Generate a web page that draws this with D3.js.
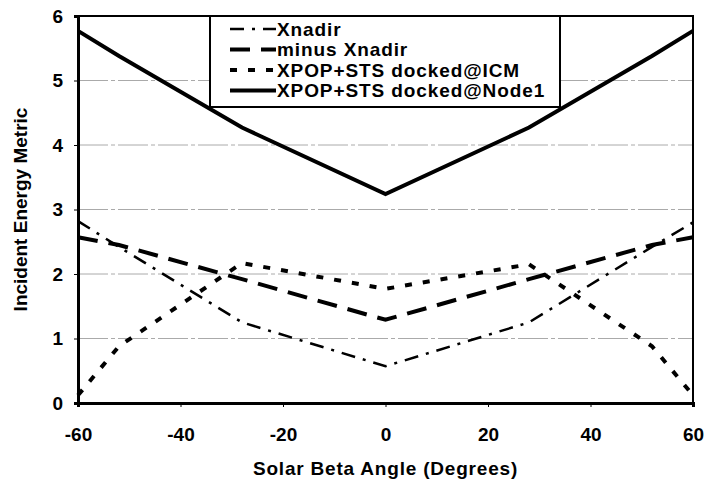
<html>
  <head>
    <meta charset="utf-8">
    <style>
      body { margin: 0; background: #fff; }
      text { font-family: "Liberation Sans", Arial, sans-serif; font-weight: bold; fill: #000; }
    </style>
  </head>
  <body>
    <script src="https://d3js.org/d3.v7.min.js"></script>
    <script>
    // data
    var betas = [-60, -52, -28, 0, 28, 52, 60];
    var xnadir = [2.82, 2.42, 1.25, 0.57, 1.25, 2.42, 2.80];
    var minusXnadir = [2.57, 2.45, 1.92, 1.29, 1.92, 2.45, 2.57];
    var icm = [0.12, 0.88, 2.17, 1.77, 2.15, 0.88, 0.12];
    var node1 = [5.77, 5.38, 4.27, 3.24, 4.27, 5.38, 5.77];
    var seriesNames = ["Xnadir", "minus Xnadir", "XPOP+STS docked@ICM", "XPOP+STS docked@Node1"];
    var xTicks = [-60, -40, -20, 0, 20, 40, 60];
    var yTicks = [0, 1, 2, 3, 4, 5, 6];

    var width = 709, height = 485;
    var margin = {left: 78, right: 16, top: 16, bottom: 82};

    var svg = d3.select("body").append("svg")
        .attr("width", width)
        .attr("height", height);

    var x = d3.scaleLinear().domain([-60, 60]).range([margin.left, width - margin.right]);
    var y = d3.scaleLinear().domain([0, 6]).range([height - margin.bottom, margin.top]);

    //gridlines
    svg.append("g").selectAll("line")
        .data(yTicks.filter(function(d) { return d > 0 && d < 6; }))
        .enter().append("line")
        .attr("x1", x(-60)).attr("x2", x(60))
        .attr("y1", function(d) { return y(d); })
        .attr("y2", function(d) { return y(d); })
        .attr("stroke", "#aaa")
        .attr("stroke-width", 1)
        .attr("stroke-dasharray", "30,3,4,3");

    //frame
    svg.append("rect")
        .attr("x", x(-60)).attr("y", y(6))
        .attr("width", x(60) - x(-60)).attr("height", y(0) - y(6))
        .attr("fill", "none").attr("stroke", "#000").attr("stroke-width", 2);

    //axes
    var fmt = function(d) { return String(d); };
    var xAxis = svg.append("g")
        .attr("transform", "translate(0," + y(0) + ")")
        .call(d3.axisBottom(x).tickValues(xTicks).tickFormat(fmt).tickSize(4).tickPadding(21));
    var yAxis = svg.append("g")
        .attr("transform", "translate(" + x(-60) + ",0)")
        .call(d3.axisLeft(y).tickValues(yTicks).tickFormat(fmt).tickSize(4).tickPadding(11));
    xAxis.select(".domain").attr("stroke-width", 3);
    yAxis.select(".domain").attr("stroke-width", 3);
    svg.selectAll(".tick text").style("font-size", "19px").style("font-weight", "bold")
        .style("font-family", "'Liberation Sans', Arial, sans-serif");

    //series
    var styles = [
      {data: xnadir, width: 2.5, dash: "14,8,3,8"},
      {data: minusXnadir, width: 4, dash: "20,11"},
      {data: icm, width: 4, dash: "7,11"},
      {data: node1, width: 4, dash: null}
    ];

    var line = d3.line()
        .x(function(d, i) { return x(betas[i]); })
        .y(function(d) { return y(d); });

    styles.forEach(function(s) {
      svg.append("path")
          .attr("d", line(s.data))
          .attr("fill", "none")
          .attr("stroke", "#000")
          .attr("stroke-width", s.width)
          .attr("stroke-dasharray", s.dash);
    });

    //legend
    var lg = svg.append("g").attr("transform", "translate(210,16)");
    lg.append("rect").attr("width", 350).attr("height", 91)
        .attr("fill", "#fff").attr("stroke", "#000").attr("stroke-width", 2);
    seriesNames.forEach(function(name, i) {
      var yy = 13 + i * 20.5;
      lg.append("line")
          .attr("x1", 20).attr("x2", 66)
          .attr("y1", yy).attr("y2", yy)
          .attr("stroke", "#000")
          .attr("stroke-width", styles[i].width)
          .attr("stroke-dasharray", styles[i].dash);
      lg.append("text")
          .attr("x", 67).attr("y", yy + 6.5)
          .style("font-size", "19px")
          .style("letter-spacing", "0.9px")
          .text(name);
    });

    //axis titles
    svg.append("text")
        .attr("x", x(0)).attr("y", 475)
        .attr("text-anchor", "middle")
        .style("font-size", "19px")
        .style("letter-spacing", "0.8px")
        .text("Solar Beta Angle (Degrees)");
    svg.append("text")
        .attr("transform", "translate(27," + y(3) + ") rotate(-90)")
        .attr("text-anchor", "middle")
        .style("font-size", "19px")
        .text("Incident Energy Metric");
    </script>
  </body>
</html>
